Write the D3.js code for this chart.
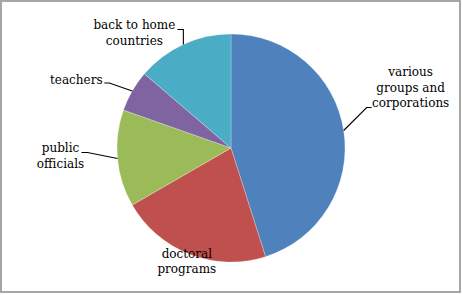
<!DOCTYPE html>
<html>
<head>
<meta charset="utf-8">
<script src="https://cdn.jsdelivr.net/npm/d3@7"></script>
<style>
  body { margin: 0; background: #fff; }
  svg { display: block; }
</style>
</head>
<body>
<svg></svg>
<script>
var width = 462, height = 295;
var cx = 231, cy = 148, radius = 114;

// data
var categories = ["various groups and corporations", "doctoral programs", "public officials", "teachers", "back to home countries"];
var counts = [23, 11, 7, 3, 7];
var labelLines = [["various", "groups and", "corporations"], ["doctoral", "programs"], ["public", "officials"], ["teachers"], ["back to home", "countries"]];
var colors = ["#4f81bd", "#c0504d", "#9bbb59", "#8064a2", "#4bacc6"];

// label placement relative to the slice's mid point on the rim
var labelOffset = [[67, -43], [-3, 7], [-57, -3], [-56, -11], [-49, -12]];
// leader elbow relative to rim point (null = no leader)
var leaderElbow = [[[23, -23], [28, -23]], null, [[-30, -6], [-36, -6]], [[-23, -8], [-28, -8]], [[0, -15], [-6, -15]]];

var data = categories.map((c, i) => ({name: c, value: counts[i], lines: labelLines[i]}));

var svg = d3.select("svg")
  .attr("width", width)
  .attr("height", height);

svg.append("rect")
  .attr("x", 1).attr("y", 1)
  .attr("width", 459).attr("height", 291)
  .attr("fill", "#fff")
  .attr("stroke", "#a6a6a6")
  .attr("stroke-width", 2);

var pie = d3.pie().sort(null).value(d => d.value);
var arc = d3.arc().innerRadius(0).outerRadius(radius);
var arcs = pie(data);

var g = svg.append("g").attr("transform", "translate(" + cx + "," + cy + ")");

g.selectAll("path")
  .data(arcs)
  .enter()
  .append("path")
  .attr("d", arc)
  .attr("fill", (d, i) => colors[i])
  .attr("stroke", "#ffffff")
  .attr("stroke-opacity", 0.35)
  .attr("stroke-width", 0.7);

function rimPoint(d) {
  var a = (d.startAngle + d.endAngle) / 2;
  return [radius * Math.sin(a), -radius * Math.cos(a)];
}

var lineH = 15.7;

arcs.forEach(function(d, i) {
  var p = rimPoint(d);
  if (leaderElbow[i]) {
    var pts = [p].concat(leaderElbow[i].map(e => [p[0] + e[0], p[1] + e[1]]));
    g.append("path")
      .attr("d", d3.line()(pts))
      .attr("fill", "none")
      .attr("stroke", "#000")
      .attr("stroke-width", 1.1);
  }
  var lx = p[0] + labelOffset[i][0], ly = p[1] + labelOffset[i][1];
  var n = d.data.lines.length;
  var t = g.append("text")
    .attr("text-anchor", "middle")
    .style("font-family", "'DejaVu Serif', serif")
    .style("font-size", "12px")
    .attr("fill", "#000");
  d.data.lines.forEach(function(line, k) {
    t.append("tspan")
      .attr("x", lx)
      .attr("y", ly + (k - (n - 1) / 2) * lineH)
      .attr("dy", "0.35em")
      .text(line);
  });
});
</script>
</body>
</html>
